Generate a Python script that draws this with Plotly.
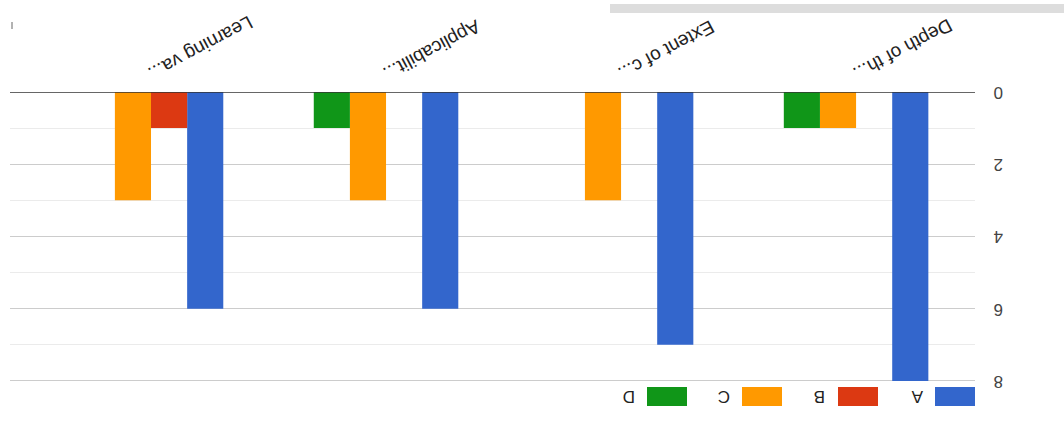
import plotly.graph_objects as go

categories = ["Depth of th...", "Extent of c...", "Applicabilit...", "Learning va..."]
series_names = ["A", "B", "C", "D"]
A = [8, 7, 6, 6]
B = [0, 0, 0, 1]
C = [1, 3, 3, 3]
D = [1, 0, 1, 0]
colors = ["#3366cc", "#dc3912", "#ff9900", "#109618"]
y_ticks = [0, 2, 4, 6, 8]

fig = go.Figure()
for name, vals, col in zip(series_names, [A, B, C, D], colors):
    fig.add_trace(go.Bar(x=categories, y=vals, name=name, marker=dict(color=col, line=dict(width=0)),
                         showlegend=False))

FONT = "Liberation Sans, Arial, sans-serif"
L, R, T, B_ = 10, 975, 92, 417
PW, PH = R - L, B_ - T
fig.update_layout(
    width=1064, height=428,
    margin=dict(l=L, r=1064 - R, t=T, b=428 - B_, autoexpand=False),
    paper_bgcolor="white", plot_bgcolor="white",
    barmode="group", bargap=0.385, bargroupgap=0,
    font=dict(family=FONT, size=17, color="#222222"),
    xaxis=dict(
        type="category", categoryorder="array", categoryarray=categories,
        range=[3.6, -0.506], side="top", tickangle=152, automargin=False,
        showgrid=False, showline=False, ticks="", zeroline=False,
        tickfont=dict(family=FONT, size=19, color="#222222"),
    ),
    yaxis=dict(
        range=[9, 0], side="right", tickvals=y_ticks, ticktext=[str(v) for v in y_ticks],
        tickangle=180, showgrid=True, gridcolor="#cccccc", gridwidth=1, automargin=False,
        minor=dict(dtick=1, showgrid=True, gridcolor="#ebebeb", gridwidth=1),
        zeroline=False, showline=False, ticks="",
        ticklabelstandoff=27, ticklabelshift=-6,
        tickfont=dict(family=FONT, size=17, color="#444444"),
    ),
)

# zero baseline
fig.add_shape(type="line", xref="paper", yref="y", x0=0, x1=1, y0=0, y1=0,
              line=dict(color="#333333", width=1.5))

def px(x):
    return (x - L) / PW

def py(y):
    return (B_ - y) / PH

# legend (upside down), built from series names and colors
box_right = [975, 878, 782, 687]
for name, col, xr in zip(series_names, colors, box_right):
    fig.add_shape(type="rect", xref="paper", yref="paper",
                  x0=px(xr - 40), x1=px(xr), y0=py(406), y1=py(387),
                  line=dict(width=0), fillcolor=col)
    fig.add_annotation(xref="paper", yref="paper", x=px(xr - 58),
                       y=py(396.5), text=name, showarrow=False, textangle=180,
                       xanchor="center", yanchor="middle",
                       font=dict(family=FONT, size=17, color="#222222"))

# top grey bar and small mark
fig.add_shape(type="rect", xref="paper", yref="paper",
              x0=px(610), x1=px(1064), y0=py(13), y1=py(4),
              line=dict(width=0), fillcolor="#dddddd")
fig.add_shape(type="line", xref="paper", yref="paper",
              x0=px(12), x1=px(12), y0=py(29), y1=py(22),
              line=dict(color="#666666", width=1))

fig.write_html("out.html", config={"displayModeBar": False},
               post_script="document.body.style.margin='0';document.body.style.padding='0';")
